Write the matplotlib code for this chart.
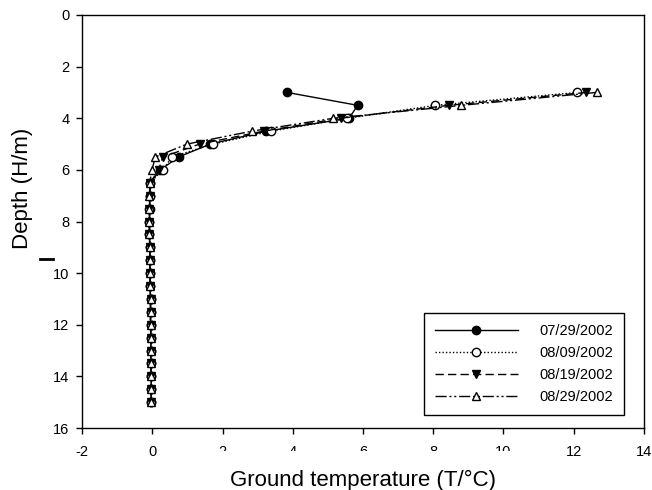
import matplotlib
matplotlib.use("Agg")
from matplotlib import pyplot as plt
from matplotlib.lines import Line2D
from matplotlib.patches import Rectangle

plt.rcParams['font.family'] = ['Liberation Sans', 'DejaVu Sans']
plt.rcParams['axes.unicode_minus'] = False

# depth below surface (m)
depth = [3.0, 3.5, 4.0, 4.5, 5.0, 5.5, 6.0, 6.5, 7.0, 7.5, 8.0, 8.5, 9.0,
         9.5, 10.0, 10.5, 11.0, 11.5, 12.0, 12.5, 13.0, 13.5, 14.0, 14.5, 15.0]

# ground temperature (C) per measuring date
t_0729 = [3.84, 5.85, 5.60, 3.25, 1.65, 0.75, 0.23, -0.06, -0.07, -0.07, -0.08, -0.08,
          -0.07, -0.07, -0.06, -0.06, -0.05, -0.05, -0.05, -0.04, -0.04, -0.04, -0.03, -0.03, -0.03]
t_0809 = [12.10, 8.06, 5.55, 3.39, 1.73, 0.56, 0.30, -0.06, -0.07, -0.08, -0.08, -0.08,
          -0.07, -0.07, -0.06, -0.06, -0.05, -0.05, -0.05, -0.04, -0.04, -0.04, -0.03, -0.03, -0.03]
t_0819 = [12.36, 8.44, 5.36, 3.17, 1.35, 0.30, 0.18, -0.06, -0.07, -0.08, -0.08, -0.08,
          -0.07, -0.07, -0.06, -0.06, -0.05, -0.05, -0.05, -0.04, -0.04, -0.04, -0.03, -0.03, -0.03]
t_0829 = [12.65, 8.80, 5.16, 2.84, 0.99, 0.09, -0.01, -0.07, -0.08, -0.08, -0.08, -0.08,
          -0.07, -0.07, -0.06, -0.06, -0.05, -0.05, -0.05, -0.04, -0.04, -0.04, -0.03, -0.03, -0.03]

labels = ["07/29/2002", "08/09/2002", "08/19/2002", "08/29/2002"]

fig = plt.figure(figsize=(6.52, 4.9), dpi=100)
ax = fig.add_axes([0.1258, 0.1265, 0.8619, 0.8429])

ax.plot(t_0729, depth, color='black', lw=1, ls='-', marker='o', ms=6,
        mfc='black', mec='black', label=labels[0])
ax.plot(t_0809, depth, color='black', lw=1, ls=(0, (1, 1.5)), marker='o', ms=6,
        mfc='white', mec='black', label=labels[1])
ax.plot(t_0819, depth, color='black', lw=1, ls=(0, (6, 3)), marker='v', ms=6.2,
        mfc='black', mec='black', label=labels[2])
ax.plot(t_0829, depth, color='black', lw=1, ls=(0, (8, 2, 1.5, 2, 1.5, 2)), marker='^', ms=6.2,
        mfc='white', mec='black', label=labels[3])

ax.set_xlim(-2, 14)
ax.set_ylim(16, 0)
ax.set_xticks([-2, 0, 2, 4, 6, 8, 10, 12, 14])
ax.set_yticks([0, 2, 4, 6, 8, 10, 12, 14, 16])
ax.tick_params(direction='out', length=4, width=1, labelsize=10.5, top=False, right=False)
ax.tick_params(axis='x', pad=8)
ax.tick_params(axis='y', pad=5)
for s in ax.spines.values():
    s.set_linewidth(1)

ax.set_xlabel("Ground temperature (T/\u00b0C)", fontsize=16, labelpad=8)
ax.set_ylabel("Depth (H/m)", fontsize=16)
ax.yaxis.set_label_coords(-0.087, 0.581)

leg = ax.legend(loc='lower right', bbox_to_anchor=(0.964, 0.031), fontsize=10.5,
                numpoints=1, handlelength=5.7, handletextpad=1.45, labelspacing=0.55,
                borderpad=0.75, borderaxespad=0, fancybox=False, framealpha=1,
                edgecolor='black')
leg.get_frame().set_linewidth(1)

# stray mark left of the y axis labels
fig.add_artist(Line2D([0.0613, 0.0813], [0.4714, 0.4714], color='black', lw=2,
                      transform=fig.transFigure))
# lower half of the middle x tick labels is cut off in the original
fig.add_artist(Rectangle((0.315, 1 - 462 / 490), 0.48, 11 / 490, transform=fig.transFigure,
                         facecolor='white', edgecolor='none', zorder=10))

plt.savefig('out.png', dpi=100)
